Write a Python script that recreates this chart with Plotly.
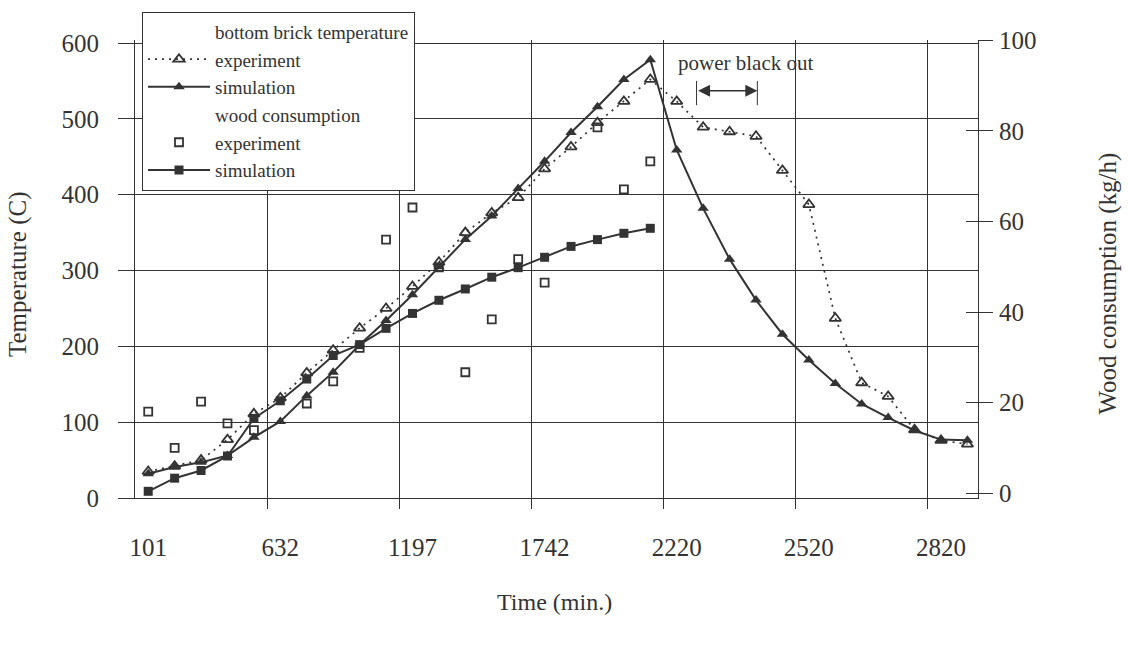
import plotly.graph_objects as go

# ---------------- data ----------------
step = list(range(32))  # sample index along the time axis
time_label_steps = [0, 5, 10, 15, 20, 25, 30]
time_labels = ["101", "632", "1197", "1742", "2220", "2520", "2820"]
grid_steps = [4.5, 9.5, 14.5, 19.5, 24.5, 29.5]

temp_experiment = [35, 42, 50, 77, 111, 132, 165, 195, 224, 250, 279, 311, 350, 376, 396, 434,
                   463, 495, 523, 552, 523, 489, 483, 477, 432, 387, 237, 152, 134, 90, 76, 71]
temp_simulation = [32, 41, 47, 56, 80, 101, 135, 166, 202, 234, 268, 305, 341, 372, 408, 444,
                   482, 516, 552, 578, 459, 382, 315, 261, 216, 182, 151, 124, 106, 89, 77, 76]

wood_step = list(range(20))
wood_experiment = [18.0, 10.0, 20.2, 15.4, 13.9, None, 19.8, 24.7, 32.1, 56.0, 63.1, 49.9,
                   26.7, 38.4, 51.7, 46.5, None, 80.8, 67.1, 73.3]
wood_simulation = [0.4, 3.3, 5.0, 8.2, 16.5, 20.4, 25.2, 30.4, 32.8, 36.4, 39.7, 42.6, 45.1,
                   47.7, 49.8, 52.1, 54.5, 56.0, 57.4, 58.5]

temp_ticks = [0, 100, 200, 300, 400, 500, 600]
wood_ticks = [0, 20, 40, 60, 80, 100]

blackout_start, blackout_end = 20.75, 23.05
blackout_arrow_y = 537

# ---------------- style ----------------
INK = "#333333"
FONT = "Liberation Serif"

fig = go.Figure()

fig.add_trace(go.Scatter(x=[None], y=[None], mode="lines", name="bottom brick temperature",
                         line=dict(color="rgba(0,0,0,0)")))
fig.add_trace(go.Scatter(x=step, y=temp_experiment, mode="lines+markers", name="experiment",
                         line=dict(color=INK, width=1.7, dash="2px,5px"),
                         marker=dict(symbol="triangle-up-open", size=10, color=INK,
                                     line=dict(width=1.8, color=INK))))
fig.add_trace(go.Scatter(x=step, y=temp_simulation, mode="lines+markers", name="simulation",
                         line=dict(color=INK, width=2),
                         marker=dict(symbol="triangle-up", size=10, color=INK)))
fig.add_trace(go.Scatter(x=[None], y=[None], mode="lines", name="wood consumption",
                         line=dict(color="rgba(0,0,0,0)"), yaxis="y2"))
fig.add_trace(go.Scatter(x=wood_step, y=wood_experiment, mode="markers", name="experiment",
                         yaxis="y2",
                         marker=dict(symbol="square-open", size=8, color=INK,
                                     line=dict(width=1.8, color=INK))))
fig.add_trace(go.Scatter(x=wood_step, y=wood_simulation, mode="lines+markers", name="simulation",
                         yaxis="y2",
                         line=dict(color=INK, width=2),
                         marker=dict(symbol="square", size=9, color=INK)))
# invisible trace to anchor the inner-tick overlay axis
fig.add_trace(go.Scatter(x=[None], y=[None], yaxis="y3", showlegend=False, hoverinfo="skip"))

# power black out marker
fig.add_annotation(x=blackout_end, y=blackout_arrow_y, ax=blackout_start, ay=blackout_arrow_y,
                   xref="x", yref="y", axref="x", ayref="y", text="", showarrow=True,
                   arrowhead=2, arrowside="end+start", arrowsize=1.6, arrowwidth=1.5,
                   arrowcolor=INK)
for xb in (blackout_start, blackout_end):
    fig.add_shape(type="line", x0=xb, x1=xb, y0=518, y1=550, xref="x", yref="y",
                  line=dict(color=INK, width=1))
fig.add_annotation(x=22.6, y=574, xref="x", yref="y", xanchor="center", yanchor="middle",
                   text="power black out", showarrow=False,
                   font=dict(family=FONT, size=21, color=INK))

# axis titles
fig.add_annotation(x=-0.1388, y=0.489, xref="paper", yref="paper", text="Temperature (C)",
                   xanchor="center", yanchor="middle",
                   textangle=-90, showarrow=False, font=dict(family=FONT, size=25, color=INK))
fig.add_annotation(x=1.154, y=0.468, xref="paper", yref="paper",
                   xanchor="center", yanchor="middle",
                   text="Wood consumption (kg/h)", textangle=-90, showarrow=False,
                   font=dict(family=FONT, size=25, color=INK))
fig.add_annotation(x=0.498, y=-0.2275, xref="paper", yref="paper", text="Time (min.)",
                   xanchor="center", yanchor="middle",
                   showarrow=False, font=dict(family=FONT, size=24, color=INK))

fig.update_layout(
    width=1128, height=647,
    margin=dict(l=135, r=150, t=32, b=149),
    paper_bgcolor="white", plot_bgcolor="white",
    font=dict(family=FONT, size=25, color=INK),
    showlegend=True,
    legend=dict(x=0.0083, y=1.062, xanchor="left", yanchor="top",
                bgcolor="white", bordercolor=INK, borderwidth=1,
                font=dict(family=FONT, size=19, color=INK),
                traceorder="normal", tracegroupgap=0, itemwidth=62),
    xaxis=dict(range=[-0.5, 31.4], tickmode="array", tickvals=time_label_steps,
               ticktext=time_labels, ticks="", showgrid=False, zeroline=False,
               showline=True, linecolor=INK, linewidth=1.2, ticklabelstandoff=27,
               tickfont=dict(size=25),
               minor=dict(tickmode="array", tickvals=grid_steps, showgrid=True,
                          gridcolor=INK, gridwidth=1, ticks="outside", ticklen=10,
                          tickcolor=INK, tickwidth=1)),
    yaxis=dict(range=[0, 604], tickmode="array", tickvals=temp_ticks, showgrid=True,
               gridcolor=INK, gridwidth=1, zeroline=False, showline=True, linecolor=INK,
               linewidth=1.2, ticks="outside", ticklen=16, tickcolor=INK,
               ticklabelstandoff=14, tickfont=dict(size=25)),
    yaxis2=dict(range=[-1.08, 100.1], overlaying="y", side="right", tickmode="array",
                tickvals=wood_ticks, showgrid=False, zeroline=False, showline=True,
                linecolor=INK, linewidth=1.2, ticks="outside", ticklen=14, tickcolor=INK,
                showticklabels=False),
    yaxis3=dict(range=[-1.08, 100.1], overlaying="y", side="right", tickmode="array",
                tickvals=wood_ticks, showgrid=False, zeroline=False, showline=False,
                ticks="inside", ticklen=12, tickcolor=INK, showticklabels=True,
                ticklabelstandoff=20, tickfont=dict(size=25)),
)

fig.write_html("out.html")
